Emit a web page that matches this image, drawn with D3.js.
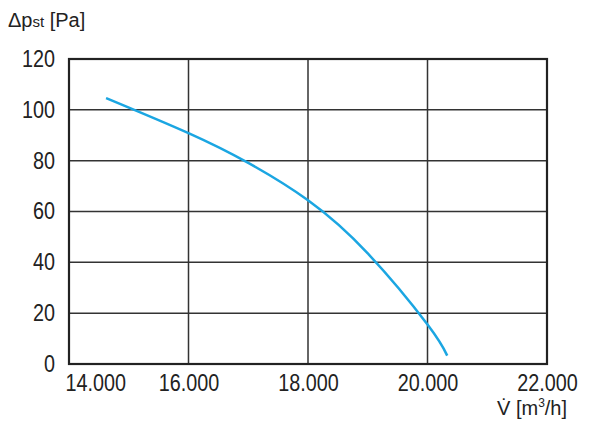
<!DOCTYPE html>
<html>
<head>
<meta charset="utf-8">
<script src="https://cdn.jsdelivr.net/npm/d3@7"></script>
<style>
  * { margin: 0; padding: 0; }
  body { background: #fff; }
  text { font-family: "Liberation Sans", Arial, sans-serif; fill: #222; }
</style>
</head>
<body>
<div id="chart"></div>
<script>
// fan curve: airflow [m3/h] vs static pressure [Pa]
var flow = [14620, 16000, 17000, 18000, 19000, 20000, 20330];
var pressure = [104.6, 90.8, 79.1, 64.4, 43.5, 15.5, 3.3];
var xTicks = [14000, 16000, 18000, 20000, 22000];
var yTicks = [0, 20, 40, 60, 80, 100, 120];

var width = 600, height = 424;
var margin = { top: 59, right: 53, bottom: 60, left: 69 };
var w = width - margin.left - margin.right,
    h = height - margin.top - margin.bottom;

var svg = d3.select("#chart").append("svg")
    .attr("width", width)
    .attr("height", height);

var g = svg.append("g")
    .attr("transform", "translate(" + margin.left + "," + margin.top + ")");

var x = d3.scaleLinear().domain([14000, 22000]).range([0, w]);
var y = d3.scaleLinear().domain([0, 120]).range([h, 0]);

var fmt = function (d) { return d3.format(",")(d).replace(",", "."); };

// grid
g.selectAll(".vgrid").data(xTicks.slice(1, -1)).enter().append("line")
    .attr("x1", d => x(d)).attr("x2", d => x(d))
    .attr("y1", 0).attr("y2", h)
    .style("stroke", "#333").style("stroke-width", 1.5);

g.selectAll(".hgrid").data(yTicks.slice(1, -1)).enter().append("line")
    .attr("y1", d => y(d)).attr("y2", d => y(d))
    .attr("x1", 0).attr("x2", w)
    .style("stroke", "#333").style("stroke-width", 1.5);

// frame
g.append("rect")
    .attr("width", w).attr("height", h)
    .style("fill", "none").style("stroke", "#222").style("stroke-width", 2.2);

// curve
var pts = flow.map((d, i) => ({ x: d, y: pressure[i] }));
g.append("path")
    .datum(pts)
    .attr("d", d3.line().x(d => x(d.x)).y(d => y(d.y)).curve(d3.curveNatural))
    .style("fill", "none")
    .style("stroke", "#1ba6e2")
    .style("stroke-width", 2.5);

// condensed look
function squeeze(sel, origin) {
    sel.style("transform-box", "fill-box")
       .style("transform-origin", origin)
       .style("transform", "scaleX(0.86)");
}

// axes (labels only)
var xAxis = g.append("g")
    .attr("transform", "translate(0," + h + ")")
    .call(d3.axisBottom(x).tickValues(xTicks).tickFormat(fmt).tickSize(0).tickPadding(11));
var yAxis = g.append("g")
    .call(d3.axisLeft(y).tickValues(yTicks).tickSize(0).tickPadding(14));
[xAxis, yAxis].forEach(function (a) {
    a.select(".domain").remove();
    a.selectAll("text").style("font-size", "23px").style("font-family", null).attr("fill", "#222");
});
squeeze(yAxis.selectAll("text"), "right center");
squeeze(xAxis.selectAll("text"), "center center");
// first x label sits right of the corner
xAxis.selectAll(".tick").filter(d => d == xTicks[0]).select("text")
    .attr("text-anchor", "start").attr("x", -4)
    .style("transform-origin", "left center");

// axis titles
var yt = svg.append("text").attr("x", 8).attr("y", 27).style("font-size", "20px");
yt.append("tspan").text("\u0394p");
yt.append("tspan").text("st").style("font-size", "15px");
yt.append("tspan").text(" [Pa]");

var xt = svg.append("text").attr("x", 497).attr("y", 415).style("font-size", "20px");
xt.append("tspan").text("V\u0307 [m");
xt.append("tspan").text("3").style("font-size", "12px").attr("dy", -8);
xt.append("tspan").text("/h]").attr("dy", 8);
</script>
</body>
</html>
